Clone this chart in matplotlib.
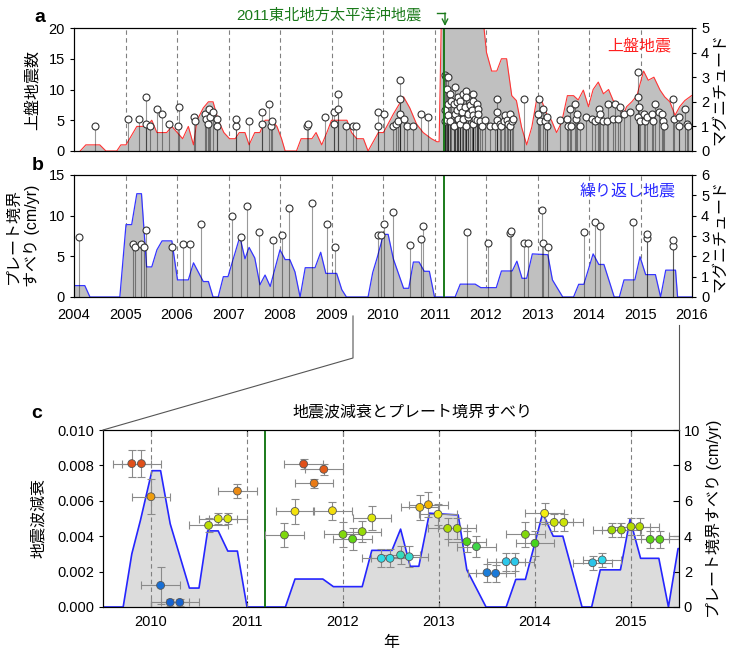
import numpy as np
import matplotlib
matplotlib.use("Agg")
import matplotlib.pyplot as plt
from matplotlib.colors import LinearSegmentedColormap, Normalize
from matplotlib.lines import Line2D
from matplotlib.ticker import FormatStrFormatter

plt.rcParams["font.family"] = ["Liberation Sans", "Noto Sans CJK JP"]
plt.rcParams["font.size"] = 10

MAINSHOCK = 2011.19

# --- panel a: overriding-plate earthquake count (red) and magnitudes (stems)
cnt_year = [2004.12, 2004.23, 2004.50, 2004.62, 2004.83, 2004.91, 2005.01, 2005.22, 2005.41, 2005.51,
            2005.61, 2005.80, 2005.90, 2006.11, 2006.22, 2006.32, 2006.39, 2006.51, 2006.61, 2006.70,
            2006.80, 2006.91, 2007.02, 2007.13, 2007.21, 2007.32, 2007.40, 2007.51, 2007.61, 2007.71,
            2007.84, 2007.94, 2008.03, 2008.10, 2008.32, 2008.41, 2008.62, 2008.70, 2008.81, 2008.91,
            2009.00, 2009.30, 2009.39, 2009.49, 2009.62, 2009.71, 2009.91, 2010.01, 2010.20, 2010.40,
            2010.52, 2010.65, 2010.78, 2010.94, 2011.05, 2011.09, 2011.14, 2011.90, 2012.01, 2012.11,
            2012.21, 2012.30, 2012.40, 2012.50, 2012.59, 2012.69, 2012.79, 2012.89, 2012.98, 2013.08,
            2013.18, 2013.27, 2013.37, 2013.47, 2013.58, 2013.70, 2013.79, 2013.89, 2013.99, 2014.08,
            2014.18, 2014.28, 2014.38, 2014.47, 2014.57, 2014.67, 2014.73, 2014.83, 2014.93, 2015.06,
            2015.15, 2015.26, 2015.38, 2015.47, 2015.57, 2015.67, 2015.76, 2015.86, 2015.99]
cnt_val = [0, 1, 1, 0, 0, 1, 1, 4, 4, 5,
           3, 3, 4, 2, 4, 1, 5, 7, 8, 8,
           5, 3, 2, 2, 3, 3, 1, 3, 3, 5,
           5, 4, 2, 0, 0, 2, 2, 3, 1, 3,
           5, 5, 3, 2, 2, 0, 3, 3, 6, 8.8,
           7, 4.4, 3, 2, 1.5, 1.5, 25, 25, 16, 13,
           13, 15, 15, 9, 8.2, 3.9, 1, 3.9, 8.2, 8.2,
           6, 5, 3, 4.7, 9, 9, 8.3, 9.9, 7.2, 10,
           11.2, 9.3, 10, 8.2, 7.7, 6, 7.2, 8, 9, 13,
           11.5, 12, 9.9, 8.8, 8, 5.8, 7.2, 8.2, 9]

eq_year = [2004.41, 2005.04, 2005.26, 2005.40, 2005.40, 2005.48, 2005.62, 2005.71, 2005.84, 2006.01,
           2006.04, 2006.33, 2006.34, 2006.54, 2006.57, 2006.61, 2006.63, 2006.65, 2006.70, 2006.77,
           2006.77, 2007.14, 2007.15, 2007.40, 2007.65, 2007.66, 2007.79, 2007.83, 2007.84, 2008.52,
           2008.55, 2008.87, 2009.04, 2009.05, 2009.12, 2009.13, 2009.28, 2009.42, 2009.47, 2009.91,
           2009.91, 2010.02, 2010.20, 2010.25, 2010.30, 2010.33, 2010.33, 2010.33, 2010.40, 2010.46,
           2010.58, 2010.73, 2010.88,
           2011.20, 2011.20, 2011.20, 2011.22, 2011.24, 2011.24, 2011.27, 2011.27, 2011.27, 2011.30,
           2011.30, 2011.33, 2011.37, 2011.37, 2011.40, 2011.40, 2011.43, 2011.43, 2011.46, 2011.46,
           2011.49, 2011.49, 2011.49, 2011.53, 2011.56, 2011.56, 2011.59, 2011.61, 2011.62, 2011.62,
           2011.66, 2011.66, 2011.69, 2011.72, 2011.74, 2011.75, 2011.75, 2011.75, 2011.79, 2011.82,
           2011.82, 2011.85, 2011.85, 2011.88, 2011.92, 2011.98, 2012.08, 2012.17, 2012.21, 2012.21,
           2012.22, 2012.27, 2012.30, 2012.34, 2012.37, 2012.40, 2012.43, 2012.47, 2012.47, 2012.50,
           2012.53, 2012.74,
           2013.00, 2013.02, 2013.05, 2013.10, 2013.15, 2013.18, 2013.19, 2013.44, 2013.57, 2013.60,
           2013.63, 2013.66, 2013.73, 2013.75, 2013.76, 2013.82, 2013.95, 2014.05, 2014.12, 2014.18,
           2014.20, 2014.21, 2014.28, 2014.34, 2014.36, 2014.47, 2014.50, 2014.57, 2014.60, 2014.67,
           2014.80, 2014.96, 2014.96, 2014.96, 2014.98, 2014.99, 2015.07, 2015.09, 2015.12, 2015.22,
           2015.25, 2015.28, 2015.35, 2015.41, 2015.43, 2015.46, 2015.64, 2015.65, 2015.74, 2015.75,
           2015.86, 2015.90, 2015.93]
eq_mag = [1.0, 1.3, 1.3, 2.2, 1.1, 1.0, 1.7, 1.5, 1.1, 1.0,
          1.8, 1.4, 1.2, 1.5, 1.3, 1.1, 1.7, 1.4, 1.6, 1.3,
          1.0, 1.0, 1.3, 1.2, 1.1, 1.6, 1.9, 1.0, 1.2, 1.0,
          1.1, 1.4, 1.1, 1.6, 1.7, 2.3, 1.0, 1.0, 1.0, 1.6,
          1.0, 1.5, 1.0, 1.1, 1.2, 1.5, 2.1, 2.9, 1.3, 1.0,
          1.0, 1.5, 1.4,
          3.1, 1.65, 1.2, 3.0, 2.5, 1.25, 3.0, 1.9, 1.45, 2.3,
          1.2, 2.05, 1.9, 1.0, 2.6, 1.5, 2.0, 1.65, 2.2, 1.3,
          2.05, 1.8, 1.1, 1.6, 2.3, 1.3, 1.8, 2.45, 2.2, 1.0,
          1.4, 1.5, 1.85, 1.65, 2.3, 2.05, 1.1, 1.45, 1.3, 1.9,
          1.25, 1.7, 1.5, 1.2, 1.0, 1.25, 1.0, 1.0, 1.25, 1.6,
          2.1, 1.1, 1.0, 1.2, 1.45, 1.25, 1.1, 1.5, 1.0, 1.2,
          1.3, 2.1,
          1.5, 2.1, 1.2, 1.7, 1.2, 1.4, 1.0, 1.25, 1.3, 1.0,
          1.7, 1.0, 1.9, 1.3, 1.5, 1.0, 1.4, 1.3, 1.2, 1.3,
          1.7, 1.5, 1.2, 1.2, 1.9, 1.3, 1.9, 1.3, 1.8, 1.5,
          1.6, 3.2, 2.2, 1.4, 1.8, 1.2, 1.5, 1.2, 1.4, 1.5,
          1.2, 1.9, 1.6, 1.5, 1.2, 1.0, 2.1, 1.3, 1.0, 1.4,
          1.7, 1.1, 1.0]

# --- panel b / c: plate boundary slip rate (blue) and repeating earthquakes
slip_year = [2004.00, 2004.21, 2004.31, 2004.89, 2005.01, 2005.12, 2005.22, 2005.31, 2005.41, 2005.51,
             2005.61, 2005.71, 2005.90, 2006.01, 2006.22, 2006.32, 2006.51, 2006.61, 2006.70, 2006.80,
             2006.90, 2006.99, 2007.22, 2007.32, 2007.40, 2007.51, 2007.61, 2007.71, 2007.81, 2008.00,
             2008.10, 2008.19, 2008.29, 2008.39, 2008.49, 2008.68, 2008.79, 2008.89, 2009.10, 2009.20,
             2009.29, 2009.71, 2009.80, 2009.89, 2010.01, 2010.10, 2010.20, 2010.40, 2010.50, 2010.59,
             2010.70, 2010.80, 2010.90, 2011.00, 2011.40, 2011.50, 2011.79, 2011.90, 2012.20, 2012.30,
             2012.51, 2012.60, 2012.70, 2012.79, 2012.90, 2013.20, 2013.29, 2013.49, 2013.70, 2013.80,
             2013.90, 2014.08, 2014.19, 2014.29, 2014.49, 2014.59, 2014.68, 2014.89, 2014.99, 2015.10,
             2015.29, 2015.39, 2015.49, 2015.68, 2015.72, 2016.00]
slip_val = [1.4, 1.4, 0, 0, 8.9, 8.9, 12.7, 12.7, 3.7, 3.7,
            5.8, 6.9, 6.9, 2.1, 2.1, 4.2, 1.9, 1.9, 0, 0,
            2.5, 2.5, 7.4, 4.7, 6.1, 4.8, 1.5, 2.7, 1.3, 5.8,
            4.6, 4.6, 3.1, 0, 3.6, 3.6, 5.5, 2.9, 2.9, 0.9,
            0, 0, 3.0, 4.9, 7.7, 7.7, 4.7, 1.07, 1.07, 4.3,
            4.3, 3.16, 3.16, 0, 0, 1.58, 1.58, 1.15, 1.15, 3.2,
            3.2, 4.4, 2.3, 2.3, 5.3, 5.2, 2.1, 0, 0, 1.56,
            1.56, 5.3, 4.0, 4.0, 0, 0, 2.1, 2.1, 4.95, 2.75,
            2.75, 0, 3.3, 3.3, 0, 0]

rep_year = [2004.10, 2005.15, 2005.18, 2005.31, 2005.36, 2005.40, 2005.90, 2006.11, 2006.25, 2006.46,
            2007.06, 2007.25, 2007.35, 2007.60, 2007.86, 2008.03, 2008.18, 2008.63, 2008.92, 2009.07,
            2009.91, 2009.97, 2010.01, 2010.19, 2010.52, 2010.74, 2010.78, 2011.63, 2012.04, 2012.46,
            2012.48, 2012.74, 2012.82, 2013.08, 2013.11, 2013.21, 2013.90, 2014.12, 2014.21, 2014.86,
            2015.12, 2015.13, 2015.63, 2015.63]
rep_mag = [2.97, 2.6, 2.48, 2.6, 2.48, 3.3, 2.48, 2.6, 2.6, 3.6,
           4.0, 2.97, 4.5, 3.19, 2.78, 3.07, 4.4, 4.6, 3.6, 2.48,
           3.06, 3.06, 3.6, 4.2, 2.57, 2.86, 3.5, 3.19, 2.68, 3.17,
           3.27, 2.68, 2.68, 4.28, 2.68, 2.48, 3.19, 3.7, 3.5, 3.7,
           2.9, 3.09, 2.5, 2.78]

# --- panel c: seismic attenuation
att_year = [2009.80, 2009.90, 2010.00, 2010.10, 2010.20, 2010.30, 2010.60, 2010.70, 2010.80, 2010.90,
            2011.39, 2011.50, 2011.59, 2011.70, 2011.80, 2011.89, 2012.00, 2012.10, 2012.20, 2012.30,
            2012.40, 2012.49, 2012.60, 2012.69, 2012.80, 2012.89, 2012.99, 2013.09, 2013.19, 2013.29,
            2013.39, 2013.50, 2013.59, 2013.70, 2013.79, 2013.90, 2014.00, 2014.10, 2014.20, 2014.30,
            2014.60, 2014.70, 2014.80, 2014.90, 2015.00, 2015.09, 2015.20, 2015.30, 2015.60]
att_val = [0.0081, 0.0081, 0.00623, 0.00122, 0.00026, 0.00026, 0.00461, 0.00499, 0.00499, 0.00655,
           0.00407, 0.0054, 0.00808, 0.00699, 0.00778, 0.00544, 0.0041, 0.00384, 0.00426, 0.00503,
           0.00275, 0.00275, 0.00294, 0.00284, 0.00563, 0.00578, 0.00524, 0.00444, 0.00444, 0.00369,
           0.00341, 0.00194, 0.0019, 0.00256, 0.00256, 0.0041, 0.0036, 0.00529, 0.00478, 0.00478,
           0.0025, 0.00266, 0.00435, 0.00435, 0.00454, 0.00454, 0.00382, 0.00382, 0.0040]
att_err = [0.00075, 0.00075, 0.001, 0.00105, 0.0002, 0.0002, 0.0004, 0.0003, 0.0003, 0.0004,
           0.0007, 0.0007, 0.0003, 0.00025, 0.0003, 0.0005, 0.0007, 0.0006, 0.0006, 0.0007,
           0.0005, 0.0005, 0.0005, 0.0006, 0.0007, 0.0007, 0.0006, 0.0006, 0.0006, 0.0006,
           0.0006, 0.0005, 0.0005, 0.0005, 0.0005, 0.0007, 0.0007, 0.0006, 0.0005, 0.0005,
           0.0004, 0.0004, 0.0004, 0.0004, 0.0005, 0.0005, 0.0005, 0.0005, 0.0005]
att_xerr = 0.2

cmap_pos = [0.0, 0.0019, 0.0027, 0.0036, 0.0045, 0.0053, 0.0058, 0.0066, 0.0081]
cmap_col = ["#1560d0", "#1a78d8", "#30dcee", "#44d41a", "#b4dc00", "#f4ee10", "#f2b200", "#ec8a14", "#e0501a"]
att_cmap = LinearSegmentedColormap.from_list(
    "att", [(p / cmap_pos[-1], c) for p, c in zip(cmap_pos, cmap_col)])

GREEN = "#1a7a1a"
W, H = 731, 649
fig = plt.figure(figsize=(W / 100, H / 100), dpi=100)


def px_axes(l, t, r, b):
    return fig.add_axes([l / W, 1 - b / H, (r - l) / W, (b - t) / H])


def year_grid(ax, years, z):
    for yr in years:
        ax.axvline(yr, color="#808080", lw=0.8, ls=(0, (4, 3)), zorder=z)


ax_a = px_axes(74, 28, 692, 151)
ax_b = px_axes(74, 175, 692, 297)
ax_c = px_axes(103, 430, 679, 607)

# panel a
year_grid(ax_a, range(2005, 2016), 0.5)
ax_a.fill_between(cnt_year, cnt_val, color="#c0c0c0", lw=0, zorder=1)
ax_a.plot(cnt_year, cnt_val, color="#ff3535", lw=0.8, zorder=2)
ax_a.set_xlim(2004, 2016)
ax_a.set_ylim(0, 20)
ax_a.set_yticks([0, 5, 10, 15, 20])
ax_a.set_xticks([])
ax_a.set_ylabel("上盤地震数", fontsize=11.5, labelpad=6)
ax_a2 = ax_a.twinx()
ax_a2.vlines(eq_year, 0, eq_mag, color="k", alpha=0.4, lw=0.8)
ax_a2.plot(eq_year, eq_mag, "o", ms=5, mfc="white", mec="#333333", mew=0.8)
ax_a2.axvline(MAINSHOCK, color=GREEN, lw=1.4)
ax_a2.set_ylim(0, 5)
ax_a2.set_yticks(range(0, 6))
ax_a2.set_ylabel("マグニチュード", fontsize=11.5, labelpad=2)

# panel b
year_grid(ax_b, range(2005, 2016), 0.5)
ax_b.fill_between(slip_year, slip_val, color="#c0c0c0", lw=0, zorder=1)
ax_b.plot(slip_year, slip_val, color="#3535ff", lw=0.9, zorder=2)
ax_b.set_xlim(2004, 2016)
ax_b.set_ylim(0, 15)
ax_b.set_yticks([0, 5, 10, 15])
ax_b.set_xticks(range(2004, 2017))
ax_b.tick_params(axis="x", length=0, pad=8, labelsize=10.5)
ax_b.set_ylabel("プレート境界\nすべり (cm/yr)", fontsize=11.5, labelpad=6, linespacing=1.25)
ax_b2 = ax_b.twinx()
ax_b2.vlines(rep_year, 0, rep_mag, color="k", alpha=0.4, lw=0.8)
ax_b2.plot(rep_year, rep_mag, "o", ms=5, mfc="white", mec="#333333", mew=0.8)
ax_b2.axvline(MAINSHOCK, color=GREEN, lw=1.4)
ax_b2.set_ylim(0, 6)
ax_b2.set_yticks(range(0, 7))
ax_b2.set_ylabel("マグニチュード", fontsize=11.5, labelpad=2)

for ax in (ax_a, ax_a2, ax_b, ax_b2):
    ax.tick_params(axis="y", length=3, labelsize=10.5)

# panel c: slip on primary (right side), attenuation on twin (left side)
ax_c.fill_between(slip_year, slip_val, color="#dcdcdc", lw=0, zorder=1)
ax_c.plot(slip_year, slip_val, color="#2525ff", lw=1.2, zorder=2)
ax_c.set_xlim(2009.5, 2015.5)
ax_c.set_ylim(0, 10)
ax_c.set_xticks(range(2010, 2016))
ax_c.tick_params(axis="x", direction="in", top=True, length=4, pad=6, labelsize=10.5)
ax_c.set_xlabel("年", fontsize=11.5, labelpad=4)

ax_c2 = ax_c.twinx()
ax_c.yaxis.tick_right()
ax_c.yaxis.set_label_position("right")
ax_c.set_yticks([0, 2, 4, 6, 8, 10])
ax_c.tick_params(axis="y", left=False, labelleft=False, right=True, labelright=True,
                 direction="in", length=4, labelsize=10.5)
ax_c.set_ylabel("プレート境界すべり (cm/yr)", fontsize=11.5, labelpad=4)

ax_c2.yaxis.tick_left()
ax_c2.yaxis.set_label_position("left")
year_grid(ax_c2, range(2010, 2016), 1)
ax_c2.axvline(MAINSHOCK, color=GREEN, lw=1.4, zorder=1.5)
ax_c2.errorbar(att_year, att_val, xerr=att_xerr, yerr=att_err, fmt="none", ecolor="#8a8a8a",
               elinewidth=0.8, capsize=3, capthick=0.8, zorder=2)
ax_c2.scatter(att_year, att_val, c=att_val, cmap=att_cmap, norm=Normalize(0, cmap_pos[-1]),
              s=32, edgecolors="#555555", linewidths=0.6, zorder=3)
ax_c2.set_ylim(0, 0.010)
ax_c2.set_yticks(np.arange(0, 0.0101, 0.002))
ax_c2.yaxis.set_major_formatter(FormatStrFormatter("%.3f"))
ax_c2.tick_params(axis="y", left=True, labelleft=True, right=False, labelright=False,
                  length=3, labelsize=10.5)
ax_c2.set_ylabel("地震波減衰", fontsize=11.5, labelpad=8)

# panel labels and annotations
for lab, x, y in [("a", 40, 18), ("b", 38, 165), ("c", 37, 414)]:
    fig.text(x / W, 1 - y / H, lab, fontsize=14, fontweight="bold", ha="center", va="center")

fig.text(329 / W, 1 - 15 / H, "2011東北地方太平洋沖地震", color=GREEN, fontsize=11,
         ha="center", va="center")
fig.add_artist(Line2D([437 / W, 445 / W], [1 - 13 / H, 1 - 13 / H], color=GREEN, lw=1))
ax_a.annotate("", xy=(445, H - 26), xytext=(445, H - 13), xycoords="figure pixels",
              arrowprops=dict(arrowstyle="->", color=GREEN, lw=1, shrinkA=0, shrinkB=0))
fig.text(639 / W, 1 - 47 / H, "上盤地震", color="#ff2020", fontsize=11.5, ha="center", va="center")
fig.text(628 / W, 1 - 192 / H, "繰り返し地震", color="#2a2aff", fontsize=11.5, ha="center", va="center")
fig.text(412 / W, 1 - 412 / H, "地震波減衰とプレート境界すべり", fontsize=11.5, ha="center", va="center")

# zoom connector lines from panel b to panel c
fig.add_artist(Line2D([353 / W, 353 / W, 103 / W], [1 - 316 / H, 1 - 358 / H, 1 - 430 / H],
                      color="#555555", lw=0.8))
fig.add_artist(Line2D([679 / W, 679 / W], [1 - 325 / H, 1 - 430 / H], color="#555555", lw=0.8))

fig.savefig("out.png", dpi=100)
